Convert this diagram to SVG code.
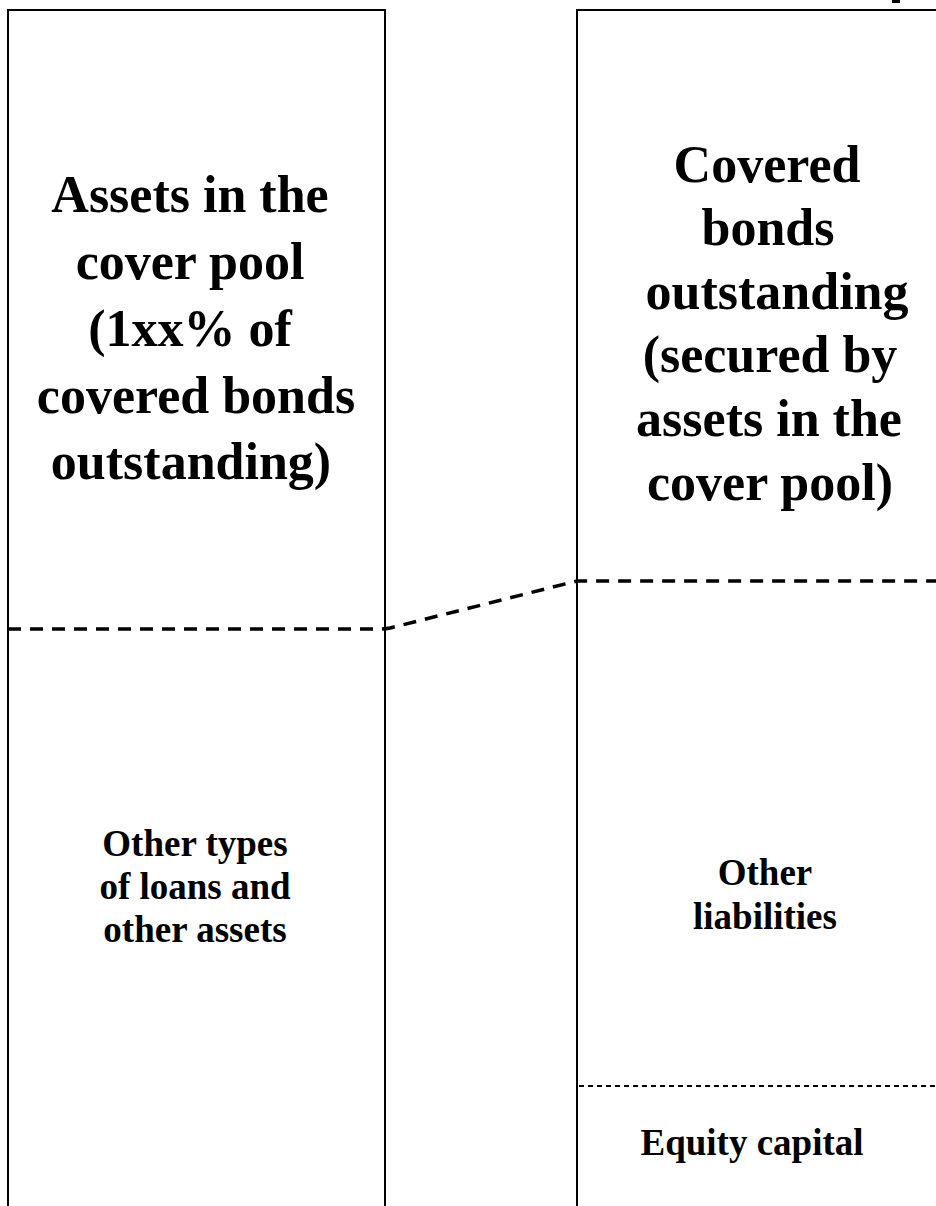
<svg xmlns="http://www.w3.org/2000/svg" width="936" height="1206" viewBox="0 0 936 1206">
<style>
.box{fill:#fff;stroke:#000;stroke-width:2}
.big{font-family:"Liberation Serif","Times New Roman",serif;font-weight:bold;font-size:52px;fill:#000;text-anchor:middle}
.small{font-family:"Liberation Serif","Times New Roman",serif;font-weight:bold;font-size:37px;fill:#000;text-anchor:middle}
.thick{fill:none;stroke:#000;stroke-width:3.5;stroke-dasharray:13 9}
.thin{fill:none;stroke:#000;stroke-width:1.8;stroke-dasharray:5 4}
</style>
<rect width="936" height="1206" fill="#fff"/>
<g id="assets">
<path class="box" d="M8,1210 V10 H385 V1210"/>
<text class="big"><tspan x="190" y="212">Assets in the</tspan><tspan x="190" y="279">cover pool</tspan><tspan x="190" y="346">(1xx% of</tspan><tspan x="196" y="413">covered bonds</tspan><tspan x="191" y="479">outstanding)</tspan></text>
<text class="small"><tspan x="195" y="856">Other types</tspan><tspan x="195" y="899">of loans and</tspan><tspan x="195" y="942">other assets</tspan></text>
</g>
<g id="liabilities">
<path class="box" d="M577,1210 V10 H940"/>
<text class="big"><tspan x="767" y="182">Covered</tspan><tspan x="768" y="245">bonds</tspan><tspan x="777" y="309">outstanding</tspan><tspan x="770" y="372">(secured by</tspan><tspan x="769" y="436">assets in the</tspan><tspan x="770" y="500">cover pool)</tspan></text>
<text class="small"><tspan x="765" y="885">Other</tspan><tspan x="765" y="929">liabilities</tspan></text>
<text class="small" x="752" y="1155">Equity capital</text>
</g>
<g id="connectors">
<path class="thick" d="M8,629 H380 Q385,629 390,628 L577,581 H936"/>
<path class="thin" d="M579,1086 H936"/>
</g>
<rect x="892" y="0" width="8" height="3" fill="#000"/>
</svg>
